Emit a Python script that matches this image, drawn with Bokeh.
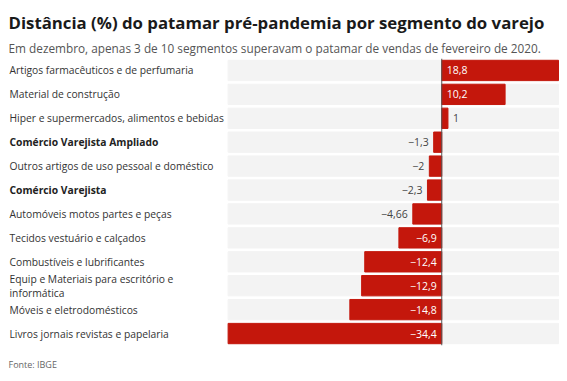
from bokeh.plotting import figure
from bokeh.models import Title, FactorRange, Range1d, Span, ColumnDataSource
from bokeh.core.properties import value
from bokeh.embed import file_html
from bokeh.resources import INLINE

categories = [
    "Artigos farmacêuticos e de perfumaria",
    "Material de construção",
    "Hiper e supermercados, alimentos e bebidas",
    "Comércio Varejista Ampliado",
    "Outros artigos de uso pessoal e doméstico",
    "Comércio Varejista",
    "Automóveis motos partes e peças",
    "Tecidos vestuário e calçados",
    "Combustíveis e lubrificantes",
    "Equip e Materiais para escritório e\ninformática",
    "Móveis e eletrodomésticos",
    "Livros jornais revistas e papelaria",
]
values = [18.8, 10.2, 1, -1.3, -2, -2.3, -4.66, -6.9, -12.4, -12.9, -14.8, -34.4]
bold_rows = ["Comércio Varejista Ampliado", "Comércio Varejista"]

title_text = "Distância (%) do patamar pré-pandemia por segmento do varejo"
subtitle_text = "Em dezembro, apenas 3 de 10 segmentos superavam o patamar de vendas de fevereiro de 2020."
source_text = "Fonte: IBGE"

FONT = "Open Sans"
RED = "#c4170c"

vmin, vmax = min(values), max(values)
px_per_unit = 214 / 34.4
left_data = vmin - 220 / px_per_unit
right_data = vmax + 1 / px_per_unit

p = figure(width=559, height=381,
           y_range=FactorRange(factors=list(reversed(categories))),
           x_range=Range1d(left_data, right_data),
           output_backend="svg", toolbar_location=None,
           min_border_left=8, min_border_right=0,
           min_border_top=58, min_border_bottom=0)
p.axis.visible = False
p.xgrid.visible = False
p.ygrid.visible = False
p.outline_line_color = None
p.background_fill_color = "white"

sub = Title(text=subtitle_text, text_font=FONT, text_font_size="11.8px",
            text_font_style="normal", text_color="#555555", offset=0, standoff=6)
p.add_layout(sub, "above")
main = Title(text=title_text, text_font=FONT, text_font_size="16.8px",
             text_font_style="bold", text_color="#1a1a1a", offset=0, standoff=2)
p.add_layout(main, "above")
foot = Title(text=source_text, text_font=FONT, text_font_size="9px",
             text_font_style="normal", text_color="#666666", offset=0, standoff=21)
p.add_layout(foot, "below")

# background rows
p.hbar(y=categories, left=vmin, right=vmax, height=0.85, color="#f3f3f3")
# bars
p.hbar(y=categories, left=0, right=values, height=0.85, color=RED)

zero = Span(location=0, dimension="height", line_color="#555555", line_width=1)
p.add_layout(zero)

# row labels
normal_rows = [c for c in categories if c not in bold_rows]
normal = ColumnDataSource(dict(y=normal_rows, x=[left_data] * len(normal_rows), t=normal_rows))
boldsrc = ColumnDataSource(dict(y=bold_rows, x=[left_data] * len(bold_rows), t=bold_rows))
p.text(x="x", y="y", text="t", source=normal, x_offset=1, text_font=value(FONT),
       text_font_size="10.3px", text_color="#333333", text_baseline="middle",
       text_align="left", text_line_height=1.0)
p.text(x="x", y="y", text="t", source=boldsrc, x_offset=1, text_font=value(FONT),
       text_font_size="10.3px", text_font_style="bold", text_color="#222222",
       text_baseline="middle", text_align="left")

# value labels
def fmt(v):
    return f"{v:g}".replace(".", ",").replace("-", "\u2212")

inside_threshold = 6
groups = {"pos_in": [], "pos_out": [], "neg_in": [], "neg_out": []}
for c, v in zip(categories, values):
    inside = abs(v) > inside_threshold
    key = ("pos" if v >= 0 else "neg") + ("_in" if inside else "_out")
    groups[key].append((c, v))

def add_labels(items, at_zero, align, offset, color):
    if not items:
        return
    ys = [c for c, v in items]
    xs = [0 if at_zero else v for c, v in items]
    ts = [fmt(v) for c, v in items]
    p.text(x=xs, y=ys, text=ts, x_offset=offset, text_font=value(FONT),
           text_font_size="10.5px", text_color=color, text_baseline="middle",
           text_align=align)

add_labels(groups["pos_in"], True, "left", 5, "white")
add_labels(groups["pos_out"], False, "left", 5, "#444444")
add_labels(groups["neg_in"], True, "right", -5, "white")
add_labels(groups["neg_out"], False, "right", -5, "#444444")

open("out.html", "w").write(file_html(p, INLINE))
